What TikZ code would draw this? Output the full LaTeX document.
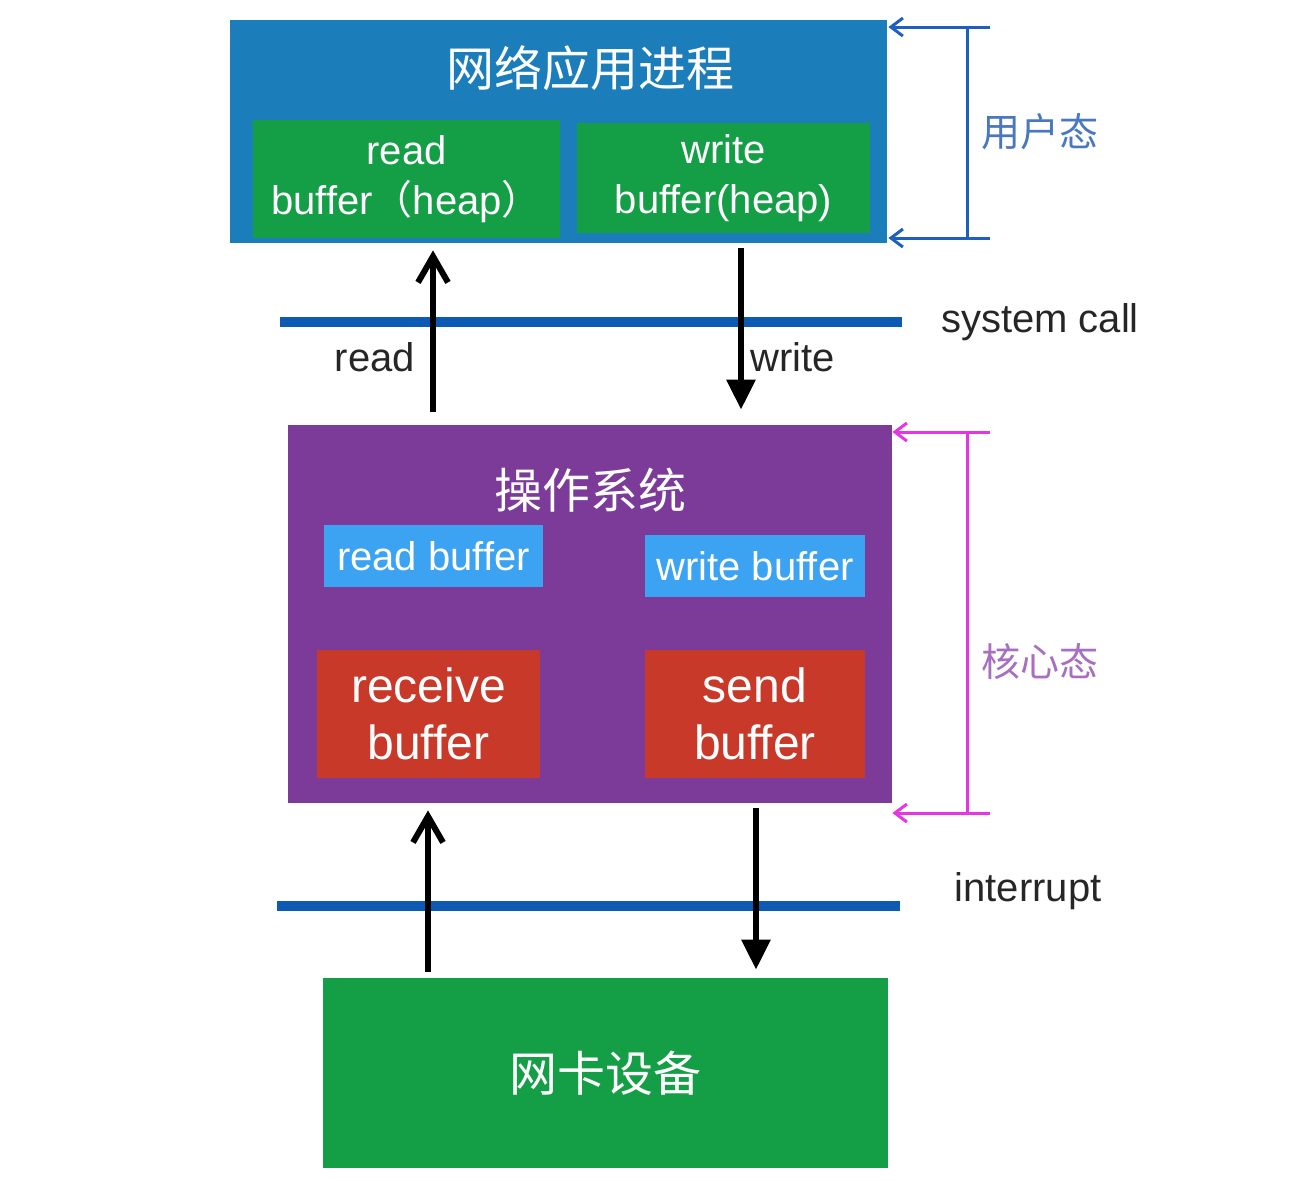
\documentclass[tikz,border=0pt]{standalone}
\usepackage{fontspec}
\setmainfont{Liberation Sans}
\newfontfamily\cjk{Noto Sans CJK SC}
\usepackage{tikz}
\usetikzlibrary{arrows.meta}

\definecolor{appblue}{HTML}{1B7DB9}
\definecolor{boxgreen}{HTML}{149E45}
\definecolor{ospurple}{HTML}{7C3A99}
\definecolor{bufblue}{HTML}{3BA3F2}
\definecolor{bufred}{HTML}{C9392A}
\definecolor{barblue}{HTML}{0C5AB4}
\definecolor{userblue}{HTML}{1F5FC0}
\definecolor{kernmag}{HTML}{E536E5}
\definecolor{usertext}{HTML}{4A78BE}
\definecolor{kerntext}{HTML}{A86FC0}

\tikzset{
	box/.style = {rectangle, inner sep = 0pt, align = center, text = white},
	small/.style = {font = \fontsize{20}{25}\selectfont},
	big/.style = {font = \fontsize{24}{28.5}\selectfont},
	title/.style = {font = \cjk\fontsize{24}{28}\selectfont, text = white},
	upline/.style = {line width = 3pt, -{Straight Barb[length = 13pt, width = 15pt, line width = 3pt]}},
	downline/.style = {line width = 3pt, -{Triangle[length = 15pt, width = 14pt]}},
	bar/.style = {line width = 5pt, barblue},
	brace/.style = {line width = 1.5pt, <-, >={Straight Barb[length = 6pt, width = 9pt]}}
}

\begin{document}
\begin{tikzpicture}[x = 0.5pt, y = -0.5pt]
			\useasboundingbox (0,0) rectangle (1306,1180);

			% user space
			\node [box, fill = appblue, minimum width = 328.5pt, minimum height = 111.5pt] (app) at (558.5,131.5) {};
			\node [title] (apptitle) at (590,68) {网络应用进程};
			\node [box, small, fill = boxgreen, minimum width = 153.5pt, minimum height = 59pt] (rheap) at (406.5,179) {read\\buffer{\cjk （}heap{\cjk ）}};
			\node [box, small, fill = boxgreen, minimum width = 146.5pt, minimum height = 55pt] (wheap) at (723.5,178) {write\\buffer(heap)};

			% kernel
			\node [box, fill = ospurple, minimum width = 302pt, minimum height = 189pt] (os) at (590,614) {};
			\node [title] (ostitle) at (590,490) {操作系统};
			\node [box, small, fill = bufblue, minimum width = 109.5pt, minimum height = 31pt] (rbuf) at (433.5,556) {read buffer};
			\node [box, small, fill = bufblue, minimum width = 110pt, minimum height = 31pt] (wbuf) at (755,566) {write buffer};
			\node [box, big, fill = bufred, minimum width = 111.5pt, minimum height = 64pt] (recv) at (428.5,714) {receive\\buffer};
			\node [box, big, fill = bufred, minimum width = 110pt, minimum height = 64pt] (send) at (755,714) {send\\buffer};

			% device
			\node [box, title, fill = boxgreen, minimum width = 282.5pt, minimum height = 95pt] (nic) at (605.5,1073) {网卡设备};

			% boundaries
			\draw [bar] (280,322) -- (902,322);
			\draw [bar] (277,906) -- (900,906);
			\node [small, text = black!85] (syscall) at (1040,322) {system call};
			\node [small, text = black!85] (intr) at (1028,891) {interrupt};
			\node [small, text = black!85] (rdlbl) at (375,357) {read};
			\node [small, text = black!85] (wrlbl) at (793,357) {write};

			\begin{scope}
				\draw [upline, shorten <= 6.5pt, shorten >= 3.5pt] (433,0 |- os.north) -- (433,0 |- app.south);
				\draw [downline, shorten <= 2.5pt, shorten >= 7.5pt] (741,0 |- app.south) -- (741,0 |- os.north);
				\draw [upline, shorten <= 3pt, shorten >= 3.5pt] (428,0 |- nic.north) -- (428,0 |- os.south);
				\draw [downline, shorten <= 2.5pt, shorten >= 4pt] (756,0 |- os.south) -- (756,0 |- nic.north);
			\end{scope}

			% user / kernel mode brackets
			\begin{scope}[userblue]
				\coordinate (ut) at (990,27);
				\coordinate (ub) at (990,238);
				\draw [brace] (app.east |- ut) ++(1,0) -- (ut);
				\draw [brace] (app.east |- ub) ++(1,0) -- (ub);
				\draw [line width = 1.5pt] (967,0 |- ut) -- (967,0 |- ub);
				\node [font = \cjk\fontsize{19.5}{22}\selectfont, text = usertext] (user) at (1040,132) {用户态};
			\end{scope}

			\begin{scope}[kernmag]
				\coordinate (kt) at (990,432);
				\coordinate (kb) at (990,813);
				\draw [brace] (os.east |- kt) -- (kt);
				\draw [brace] (os.east |- kb) -- (kb);
				\draw [line width = 1.5pt] (967,0 |- kt) -- (967,0 |- kb);
				\node [font = \cjk\fontsize{19.5}{22}\selectfont, text = kerntext] (kern) at (1040,662) {核心态};
			\end{scope}
		\end{tikzpicture}
\end{document}
